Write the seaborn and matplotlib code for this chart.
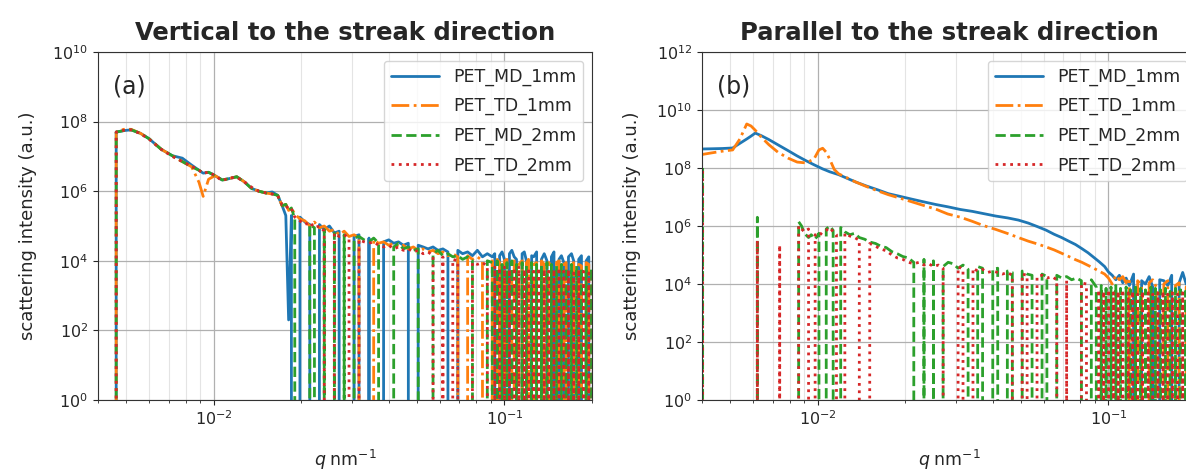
import numpy as np
import pandas as pd
import seaborn as sns
import matplotlib.pyplot as plt
from matplotlib.ticker import NullLocator

# ---- panel (a): vertical to the streak direction ----
q_a = [0.00458, 0.00462, 0.0049, 0.0052, 0.0056, 0.0060, 0.0066, 0.0072, 0.0078, 0.0084,
       0.0089, 0.0092, 0.0096, 0.0101, 0.0107, 0.0113, 0.0120, 0.0127, 0.0135, 0.0143,
       0.0151, 0.0159, 0.0166, 0.0172, 0.0177, 0.0181, 0.0185,
       0.0190, 0.0198, 0.0206, 0.0214, 0.0222, 0.0231, 0.0240, 0.0250, 0.0260, 0.0270,
       0.0281, 0.0292, 0.0304, 0.0316, 0.0329, 0.0342, 0.0355, 0.0369, 0.0384, 0.0400,
       0.0416, 0.0432, 0.0449, 0.0467, 0.0486, 0.0505, 0.0525, 0.0546, 0.0568, 0.0591,
       0.0614, 0.0639, 0.0664, 0.0691, 0.0718, 0.0747, 0.0776, 0.0807, 0.0840, 0.0873,
       0.0908, 0.0926, 0.0944, 0.0962, 0.0981, 0.1000, 0.102, 0.104, 0.106, 0.108,
       0.110, 0.112, 0.115, 0.117, 0.119, 0.121, 0.124, 0.126, 0.129, 0.131,
       0.134, 0.137, 0.140, 0.142, 0.145, 0.148, 0.151, 0.154, 0.157, 0.160,
       0.163, 0.166, 0.170, 0.173, 0.177, 0.180, 0.184, 0.187, 0.191, 0.195,
       0.199, 0.202, 0.205]

md1_a = [0, 5.0e7, 5.5e7, 5.8e7, 4.6e7, 3.2e7, 1.6e7, 1.05e7, 8.9e6, 5.6e6,
         4.0e6, 3.3e6, 3.5e6, 2.8e6, 2.1e6, 2.3e6, 2.6e6, 1.9e6, 1.2e6, 1.0e6,
         8.9e5, 9.5e5, 7.6e5, 3.8e5, 2.0e5, 2.0e2, 2.0e5,
         0, 1.8e5, 1.3e5, 1.1e5, 0, 1.1e5, 7.9e4, 1.0e5, 6.3e4, 7.1e4,
         0, 0, 5.0e4, 5.6e4, 0, 4.5e4, 0, 0, 3.5e4, 4.0e4,
         3.2e4, 3.5e4, 2.8e4, 3.2e4, 0, 2.8e4, 2.5e4, 2.2e4, 2.5e4, 2.0e4,
         2.2e4, 1.8e4, 0, 2.0e4, 1.6e4, 1.8e4, 1.4e4, 2.0e4, 1.3e4, 1.6e4,
         1.3e4, 1.6e4, 0, 1.4e4, 1.8e4, 1.1e4, 0, 1.6e4, 2.0e4, 1.3e4,
         1.1e4, 0, 1.6e4, 1.8e4, 1.0e4, 0, 1.4e4, 1.3e4, 1.8e4, 0,
         1.1e4, 1.6e4, 1.0e4, 0, 1.3e4, 1.8e4, 0, 1.1e4, 1.4e4, 8.9e3,
         0, 1.3e4, 1.6e4, 1.0e4, 0, 1.1e4, 1.4e4, 0, 1.0e4, 1.3e4,
         0, 1.0e4, 8.9e3]

td1_a = [0, 5.0e7, 6.0e7, 6.0e7, 4.6e7, 3.2e7, 1.6e7, 1.05e7, 7.1e6, 5.0e6,
         1.8e6, 7.1e5, 2.2e6, 2.8e6, 2.1e6, 2.3e6, 2.6e6, 1.9e6, 1.2e6, 1.0e6,
         8.9e5, 8.3e5, 7.6e5, 3.8e5, 4.2e5, 2.8e5, 3.3e5,
         2.2e5, 1.6e5, 1.4e5, 1.0e5, 1.3e5, 8.9e4, 1.0e5, 7.1e4, 7.9e4, 5.6e4,
         7.1e4, 5.0e4, 5.6e4, 4.5e4, 0, 0, 4.0e4, 3.2e4, 3.5e4, 2.8e4,
         3.2e4, 2.5e4, 2.8e4, 2.2e4, 2.5e4, 2.0e4, 2.2e4, 1.8e4, 2.0e4, 1.6e4,
         1.8e4, 1.4e4, 1.6e4, 1.3e4, 0, 1.4e4, 1.1e4, 1.3e4, 1.0e4, 0,
         1.0e4, 0, 1.1e4, 8.9e3, 0, 1.0e4, 1.1e4, 0, 8.9e3, 1.0e4,
         0, 7.9e3, 1.0e4, 0, 8.9e3, 1.1e4, 0, 7.9e3, 8.9e3, 0,
         1.0e4, 7.9e3, 0, 8.9e3, 7.1e3, 0, 8.9e3, 1.0e4, 0, 7.9e3,
         8.9e3, 0, 7.1e3, 8.9e3, 0, 7.9e3, 7.1e3, 0, 8.9e3, 7.9e3,
         0, 7.1e3, 7.9e3]

md2_a = [0, 5.0e7, 5.5e7, 5.8e7, 4.6e7, 3.2e7, 1.6e7, 1.05e7, 7.1e6, 5.0e6,
         4.0e6, 3.3e6, 3.5e6, 2.8e6, 2.1e6, 2.3e6, 2.6e6, 1.9e6, 1.2e6, 1.0e6,
         8.9e5, 8.3e5, 7.6e5, 3.8e5, 4.2e5, 2.8e5, 3.3e5,
         1.6e5, 0, 0, 1.1e5, 8.9e4, 0, 7.9e4, 0, 6.3e4, 0,
         5.6e4, 0, 4.5e4, 5.0e4, 4.0e4, 3.5e4, 4.5e4, 3.2e4, 0, 0,
         2.5e4, 3.2e4, 2.2e4, 2.5e4, 2.0e4, 2.2e4, 0, 0, 1.6e4, 2.0e4,
         1.4e4, 1.6e4, 1.3e4, 1.4e4, 1.1e4, 1.3e4, 1.0e4, 0, 0, 1.0e4,
         8.9e3, 0, 1.0e4, 0, 7.9e3, 0, 8.9e3, 0, 1.0e4, 0,
         7.9e3, 0, 8.9e3, 0, 7.1e3, 0, 8.9e3, 0, 7.9e3, 0,
         7.1e3, 0, 8.9e3, 0, 7.9e3, 0, 7.1e3, 0, 7.9e3, 0,
         6.3e3, 0, 7.9e3, 0, 7.1e3, 0, 6.3e3, 0, 7.1e3, 0,
         6.3e3, 0, 5.6e3]

td2_a = [0, 5.0e7, 5.6e7, 5.8e7, 4.5e7, 3.1e7, 1.6e7, 1.0e7, 7.1e6, 5.2e6,
         4.0e6, 3.2e6, 3.6e6, 2.8e6, 2.0e6, 2.4e6, 2.5e6, 1.9e6, 1.3e6, 1.0e6,
         9.0e5, 8.3e5, 7.4e5, 4.0e5, 4.0e5, 3.0e5, 3.2e5,
         1.8e5, 1.4e5, 1.1e5, 1.3e5, 8.9e4, 1.0e5, 7.1e4, 0, 6.3e4, 5.0e4,
         5.6e4, 4.5e4, 0, 4.0e4, 3.5e4, 3.2e4, 3.5e4, 2.8e4, 2.5e4, 2.8e4,
         2.2e4, 2.5e4, 2.0e4, 2.2e4, 1.8e4, 2.0e4, 1.6e4, 1.8e4, 1.4e4, 0,
         1.3e4, 0, 1.1e4, 1.0e4, 0, 0, 8.9e3, 7.9e3, 8.9e3, 7.1e3,
         0, 7.1e3, 0, 6.3e3, 0, 7.1e3, 0, 5.6e3, 0, 6.3e3,
         0, 7.1e3, 0, 5.6e3, 0, 6.3e3, 0, 5.0e3, 0, 6.3e3,
         0, 5.6e3, 0, 5.0e3, 0, 5.6e3, 0, 6.3e3, 0, 5.0e3,
         0, 5.6e3, 0, 4.5e3, 0, 5.6e3, 0, 5.0e3, 0, 4.5e3,
         0, 5.0e3, 0]

# ---- panel (b): parallel to the streak direction ----
q_b1 = [0.0039, 0.0043, 0.0047, 0.0051, 0.0054, 0.0057, 0.0059, 0.0061, 0.0064, 0.0068,
        0.0073, 0.0079, 0.0085, 0.0091, 0.0097, 0.0101, 0.0104, 0.0107, 0.0110, 0.0114,
        0.0118, 0.0125, 0.0135, 0.0147, 0.0160, 0.0175, 0.0192, 0.0210, 0.0230, 0.0255,
        0.0280, 0.0310, 0.0340, 0.0370, 0.0410, 0.0450, 0.0490, 0.0530, 0.0570, 0.0610,
        0.0650, 0.0690, 0.0730, 0.0770, 0.0810, 0.0850, 0.0890, 0.0930, 0.0970, 0.100,
        0.103, 0.106, 0.109, 0.112, 0.115, 0.118, 0.122, 0.126, 0.130, 0.134,
        0.138, 0.142, 0.146, 0.150, 0.155, 0.160, 0.165, 0.170, 0.175, 0.180,
        0.185, 0.190, 0.195, 0.200, 0.205]

md1_b = [4.5e8, 4.6e8, 4.7e8, 4.9e8, 7.1e8, 1.0e9, 1.26e9, 1.6e9, 1.3e9, 9.5e8,
         6.3e8, 4.0e8, 2.6e8, 1.8e8, 1.3e8, 1.07e8, 9.3e7, 8.3e7, 7.4e7, 6.6e7,
         5.9e7, 4.6e7, 3.3e7, 2.4e7, 1.8e7, 1.3e7, 1.05e7, 8.5e6, 6.9e6, 5.5e6,
         4.6e6, 3.7e6, 3.2e6, 2.7e6, 2.2e6, 1.9e6, 1.6e6, 1.26e6, 9.5e5, 7.2e5,
         5.2e5, 4.0e5, 3.0e5, 2.3e5, 1.66e5, 1.2e5, 8.3e4, 5.8e4, 4.0e4, 2.6e4,
         2.0e4, 1.4e4, 2.0e4, 1.1e4, 1.6e4, 8.9e3, 2.2e4, 0, 1.3e4, 1.0e4,
         1.8e4, 7.9e3, 0, 1.4e4, 1.3e4, 8.9e3, 2.0e4, 0, 1.1e4, 2.5e4,
         1.0e4, 7.9e3, 0, 1.3e4, 8.9e3]

td1_b = [2.8e8, 3.3e8, 3.8e8, 4.2e8, 1.0e9, 3.3e9, 2.8e9, 2.0e9, 1.15e9, 6.3e8,
         3.5e8, 2.2e8, 1.6e8, 1.5e8, 2.0e8, 4.2e8, 4.8e8, 3.5e8, 2.0e8, 8.9e7,
         6.3e7, 4.8e7, 3.3e7, 2.3e7, 1.66e7, 1.2e7, 9.1e6, 6.9e6, 5.2e6, 3.8e6,
         2.6e6, 2.0e6, 1.45e6, 1.05e6, 7.6e5, 5.5e5, 4.0e5, 3.0e5, 2.4e5, 1.9e5,
         1.5e5, 1.15e5, 8.9e4, 6.9e4, 5.6e4, 4.4e4, 3.5e4, 2.75e4, 2.2e4, 1.6e4,
         1.0e4, 2.0e4, 1.4e4, 1.8e4, 1.1e4, 1.6e4, 0, 1.3e4, 8.9e3, 0,
         1.1e4, 1.4e4, 7.9e3, 0, 1.0e4, 1.3e4, 0, 8.9e3, 1.1e4, 0,
         7.9e3, 1.0e4, 7.1e3, 0, 8.9e3]

q_b2 = [0.00402, 0.00405, 0.0045, 0.0055, 0.0060, 0.0062, 0.0064, 0.0070, 0.0072, 0.0074,
        0.0076, 0.0080, 0.0082, 0.0084, 0.0086, 0.0088, 0.0090, 0.0093, 0.0095, 0.0098,
        0.0101, 0.0104, 0.0107, 0.0110, 0.0113, 0.0116, 0.0120, 0.0124, 0.0129, 0.0134,
        0.0139, 0.0145, 0.0151, 0.0158, 0.0165, 0.0172, 0.0180, 0.0188, 0.0196, 0.0205,
        0.0214, 0.0223, 0.0232, 0.0241, 0.0250, 0.0260, 0.0270, 0.0281, 0.0292, 0.0304,
        0.0316, 0.0329, 0.0342, 0.0355, 0.0369, 0.0384, 0.0400, 0.0416, 0.0432, 0.0449,
        0.0467, 0.0486, 0.0505, 0.0525, 0.0546, 0.0568, 0.0591, 0.0614, 0.0639, 0.0664,
        0.0691, 0.0718, 0.0747, 0.0776, 0.0807, 0.0840, 0.0873,
        0.0908, 0.0926, 0.0944, 0.0962, 0.0981, 0.1000, 0.102, 0.104, 0.106, 0.108,
        0.110, 0.112, 0.115, 0.117, 0.119, 0.121, 0.124, 0.126, 0.129, 0.131,
        0.134, 0.137, 0.140, 0.142, 0.145, 0.148, 0.151, 0.154, 0.157, 0.160,
        0.163, 0.166, 0.170, 0.173, 0.177, 0.180, 0.184, 0.187, 0.191, 0.195,
        0.199, 0.202, 0.205]

md2_b = [1.0e8, 0, 0, 0, 0, 2.0e6, 0, 0, 0, 0,
         0, 0, 0, 0, 1.4e6, 1.0e6, 5.6e5, 4.0e5, 5.0e5, 3.5e5,
         5.6e5, 0, 7.9e5, 1.0e6, 7.1e5, 0, 8.9e5, 6.3e5, 5.0e5, 5.6e5,
         4.0e5, 3.5e5, 2.8e5, 2.5e5, 2.0e5, 1.8e5, 1.3e5, 1.1e5, 8.9e4, 7.9e4,
         5.6e4, 0, 7.1e4, 0, 6.3e4, 0, 4.0e4, 5.6e4, 5.0e4, 3.5e4,
         4.5e4, 3.2e4, 0, 4.0e4, 3.5e4, 0, 3.2e4, 3.5e4, 0, 2.8e4,
         2.5e4, 0, 2.8e4, 2.2e4, 2.0e4, 0, 2.2e4, 1.8e4, 0, 2.0e4,
         1.6e4, 1.8e4, 1.4e4, 1.6e4, 1.3e4, 0, 1.4e4,
         7.9e3, 0, 8.9e3, 0, 7.1e3, 0, 7.9e3, 0, 8.9e3, 0,
         7.1e3, 0, 7.9e3, 0, 6.3e3, 0, 7.9e3, 0, 7.1e3, 0,
         6.3e3, 0, 7.9e3, 0, 7.1e3, 0, 6.3e3, 0, 7.1e3, 0,
         5.6e3, 0, 7.1e3, 0, 6.3e3, 0, 5.6e3, 0, 6.3e3, 0,
         5.6e3, 0, 6.3e3]

td2_b = [7.9e7, 0, 0, 0, 0, 3.2e5, 0, 0, 0, 2.2e5,
         0, 0, 0, 0, 1.0e6, 7.9e5, 6.3e5, 7.9e5, 0, 5.0e5,
         4.5e5, 6.3e5, 7.1e5, 8.9e5, 6.3e5, 5.0e5, 0, 5.6e5, 4.5e5, 4.0e5,
         3.2e5, 0, 2.5e5, 2.0e5, 1.6e5, 1.4e5, 1.0e5, 7.9e4, 7.1e4, 5.6e4,
         5.0e4, 5.6e4, 4.5e4, 5.0e4, 4.0e4, 4.5e4, 3.5e4, 0, 0, 4.0e4,
         3.2e4, 0, 3.5e4, 2.8e4, 3.2e4, 2.5e4, 2.8e4, 2.5e4, 2.2e4, 2.5e4,
         2.0e4, 0, 2.2e4, 2.0e4, 0, 1.8e4, 2.0e4, 1.6e4, 1.8e4, 1.4e4,
         0, 1.3e4, 0, 0, 1.1e4, 1.0e4, 0,
         0, 6.3e3, 0, 5.6e3, 0, 6.3e3, 0, 5.0e3, 0, 5.6e3,
         0, 6.3e3, 0, 5.0e3, 0, 5.6e3, 0, 4.5e3, 0, 5.6e3,
         0, 5.0e3, 0, 4.5e3, 0, 5.0e3, 0, 5.6e3, 0, 4.5e3,
         0, 5.0e3, 0, 4.5e3, 0, 5.0e3, 0, 4.5e3, 0, 4.0e3,
         0, 4.5e3, 0]

names = ["PET_MD_1mm", "PET_TD_1mm", "PET_MD_2mm", "PET_TD_2mm"]
colors = ["#1f77b4", "#ff7f0e", "#2ca02c", "#d62728"]
styles = ["-", "-.", "--", ":"]

sns.set_style("ticks")
plt.rcParams['font.family'] = ['DejaVu Sans']

fig = plt.figure(figsize=(11.86, 4.71), dpi=100)
ax_a = fig.add_axes([98 / 1186, 71 / 471, 494 / 1186, 348 / 471])
ax_b = fig.add_axes([702 / 1186, 71 / 471, 494 / 1186, 348 / 471])

panels = [
    (ax_a, [(q_a, md1_a), (q_a, td1_a), (q_a, md2_a), (q_a, td2_a)],
     "Vertical to the streak direction", "(a)", 1e10, [1e0, 1e2, 1e4, 1e6, 1e8, 1e10]),
    (ax_b, [(q_b1, md1_b), (q_b1, td1_b), (q_b2, md2_b), (q_b2, td2_b)],
     "Parallel to the streak direction", "(b)", 1e12, [1e0, 1e2, 1e4, 1e6, 1e8, 1e10, 1e12]),
]

for ax, series, title, tag, ytop, yticks in panels:
    for (q, vals), name, c, ls in zip(series, names, colors, styles):
        sns.lineplot(x=q, y=vals, ax=ax, color=c, linestyle=ls, linewidth=2.0,
                     label=name, errorbar=None, sort=False)
    ax.set_xscale('log')
    ax.set_yscale('log', nonpositive='clip')
    ax.set_xlim(0.004, 0.2)
    ax.set_ylim(1, ytop)
    ax.set_yticks(yticks)
    ax.yaxis.set_minor_locator(NullLocator())
    ax.tick_params(labelsize=11.5)
    ax.grid(True, which='major', color='#b0b0b0', linewidth=0.9)
    ax.grid(True, which='minor', axis='x', color='#e4e4e4', linewidth=0.8)
    for s in ax.spines.values():
        s.set_color('#333333')
    ax.set_xlabel(r'$q\;\mathrm{nm}^{-1}$', fontsize=12.5, labelpad=14)
    ax.set_ylabel('scattering intensity (a.u.)', fontsize=13, labelpad=11)
    ax.set_title(title, fontsize=17.5, fontweight='bold', pad=9)
    ax.text(0.03, 0.9, tag, transform=ax.transAxes, fontsize=17, va='center')
    ax.legend(loc='upper right', fontsize=12.5, handlelength=2.8, labelspacing=0.65)

fig.savefig('out.png', dpi=100)
